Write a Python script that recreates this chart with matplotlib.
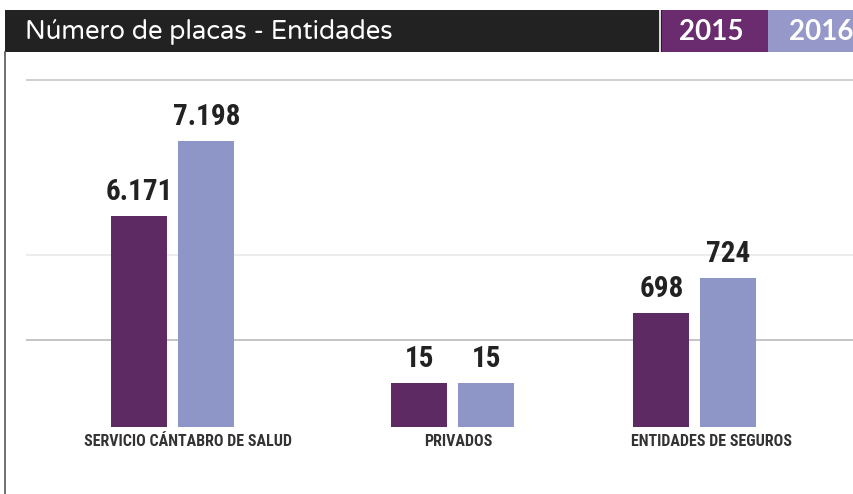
import numpy as np
import matplotlib
matplotlib.use("Agg")
import matplotlib.pyplot as plt
from matplotlib.patches import Rectangle
from matplotlib import font_manager as fm

# ---- data ----
categories = ["SERVICIO CÁNTABRO DE SALUD", "PRIVADOS", "ENTIDADES DE SEGUROS"]
years = ["2015", "2016"]
values_2015 = [6171, 15, 698]
values_2016 = [7198, 15, 724]
labels_2015 = ["6.171", "15", "698"]
labels_2016 = ["7.198", "15", "724"]
title = "Número de placas - Entidades"

# ---- fonts ----
_names = {f.name for f in fm.fontManager.ttflist}
def pick(cands):
    for c in cands:
        if c in _names:
            return c
    return "DejaVu Sans"

COND = pick(["Roboto Condensed", "PT Sans Narrow", "Archivo Narrow",
             "Asap Condensed", "Liberation Sans Narrow"])
ROUND = pick(["Varela Round", "Nunito", "Quicksand", "Lato"])
YEARF = pick(["Lato", "Open Sans"])

# ---- style / layout ----
C15 = "#5e2a63"
C16 = "#8e96c8"
HEAD = "#222222"
W, H = 854, 494
group_centers = [173, 453, 695]
label_centers = [188, 458, 712]
bar_w = 56
bar_gap = 11

# non-proportional (illustrative) value axis of the original graphic:
# a monotone piecewise scale, value -> pixel height above the baseline
scale_v = [0, 15, 698, 724, 6171, 7198, 9000]
scale_px = [0, 44, 114, 149, 211, 286, 347]

def fwd(v):
    return np.interp(v, scale_v, scale_px)

def inv(p):
    return np.interp(p, scale_px, scale_v)

fig = plt.figure(figsize=(W / 100, H / 100), dpi=100)
fig.patch.set_facecolor("white")

# decoration layer in pixel coordinates
deco = fig.add_axes([0, 0, 1, 1], zorder=0)
deco.set_xlim(0, W)
deco.set_ylim(H, 0)
deco.axis("off")
deco.add_patch(Rectangle((5, 10), W - 5, 42, color=HEAD, lw=0))
deco.add_patch(Rectangle((662, 10), 106, 42, color="#6a2c6e", lw=0))
deco.add_patch(Rectangle((768, 10), W - 768, 42, color="#9598c9", lw=0))
deco.plot([660, 660], [10, 52], color="white", lw=1.2)
deco.plot([5.5, 5.5], [52, H], color="#555555", lw=1.2)
for gy, gc in [(80, "#cfcfcf"), (255, "#ececec"), (340, "#c4c4c4")]:
    deco.plot([27, W], [gy, gy], color=gc, lw=1.4)
deco.text(25, 32, title, color="white", fontsize=18.5, family=ROUND,
          va="center", ha="left")
deco.text(711, 32, years[0], color="white", fontsize=20, family=YEARF,
          fontweight="bold", va="center", ha="center")
deco.text(821, 32, years[1], color="white", fontsize=20, family=YEARF,
          fontweight="bold", va="center", ha="center")

# chart layer
ax = fig.add_axes([0, (H - 427) / H, 1, 347 / H], zorder=1)
ax.patch.set_alpha(0)
ax.set_yscale("function", functions=(fwd, inv))
ax.set_xlim(0, W)
ax.set_ylim(0, 9000)
ax.axis("off")

x = np.array(group_centers, dtype=float)
off = (bar_w + bar_gap) / 2
b1 = ax.bar(x - off, values_2015, width=bar_w, color=C15)
b2 = ax.bar(x + off, values_2016, width=bar_w, color=C16)
lab_font = dict(family=COND, fontweight="bold", fontsize=21, color="#222222")
ax.bar_label(b1, labels=labels_2015, padding=7, **lab_font)
ax.bar_label(b2, labels=labels_2016, padding=7, **lab_font)

for cx, name in zip(label_centers, categories):
    deco.text(cx, 441, name, ha="center", va="center",
              family=COND, fontweight="bold",
              fontsize=11.5, color="#333333")

fig.savefig("out.png", dpi=100)
